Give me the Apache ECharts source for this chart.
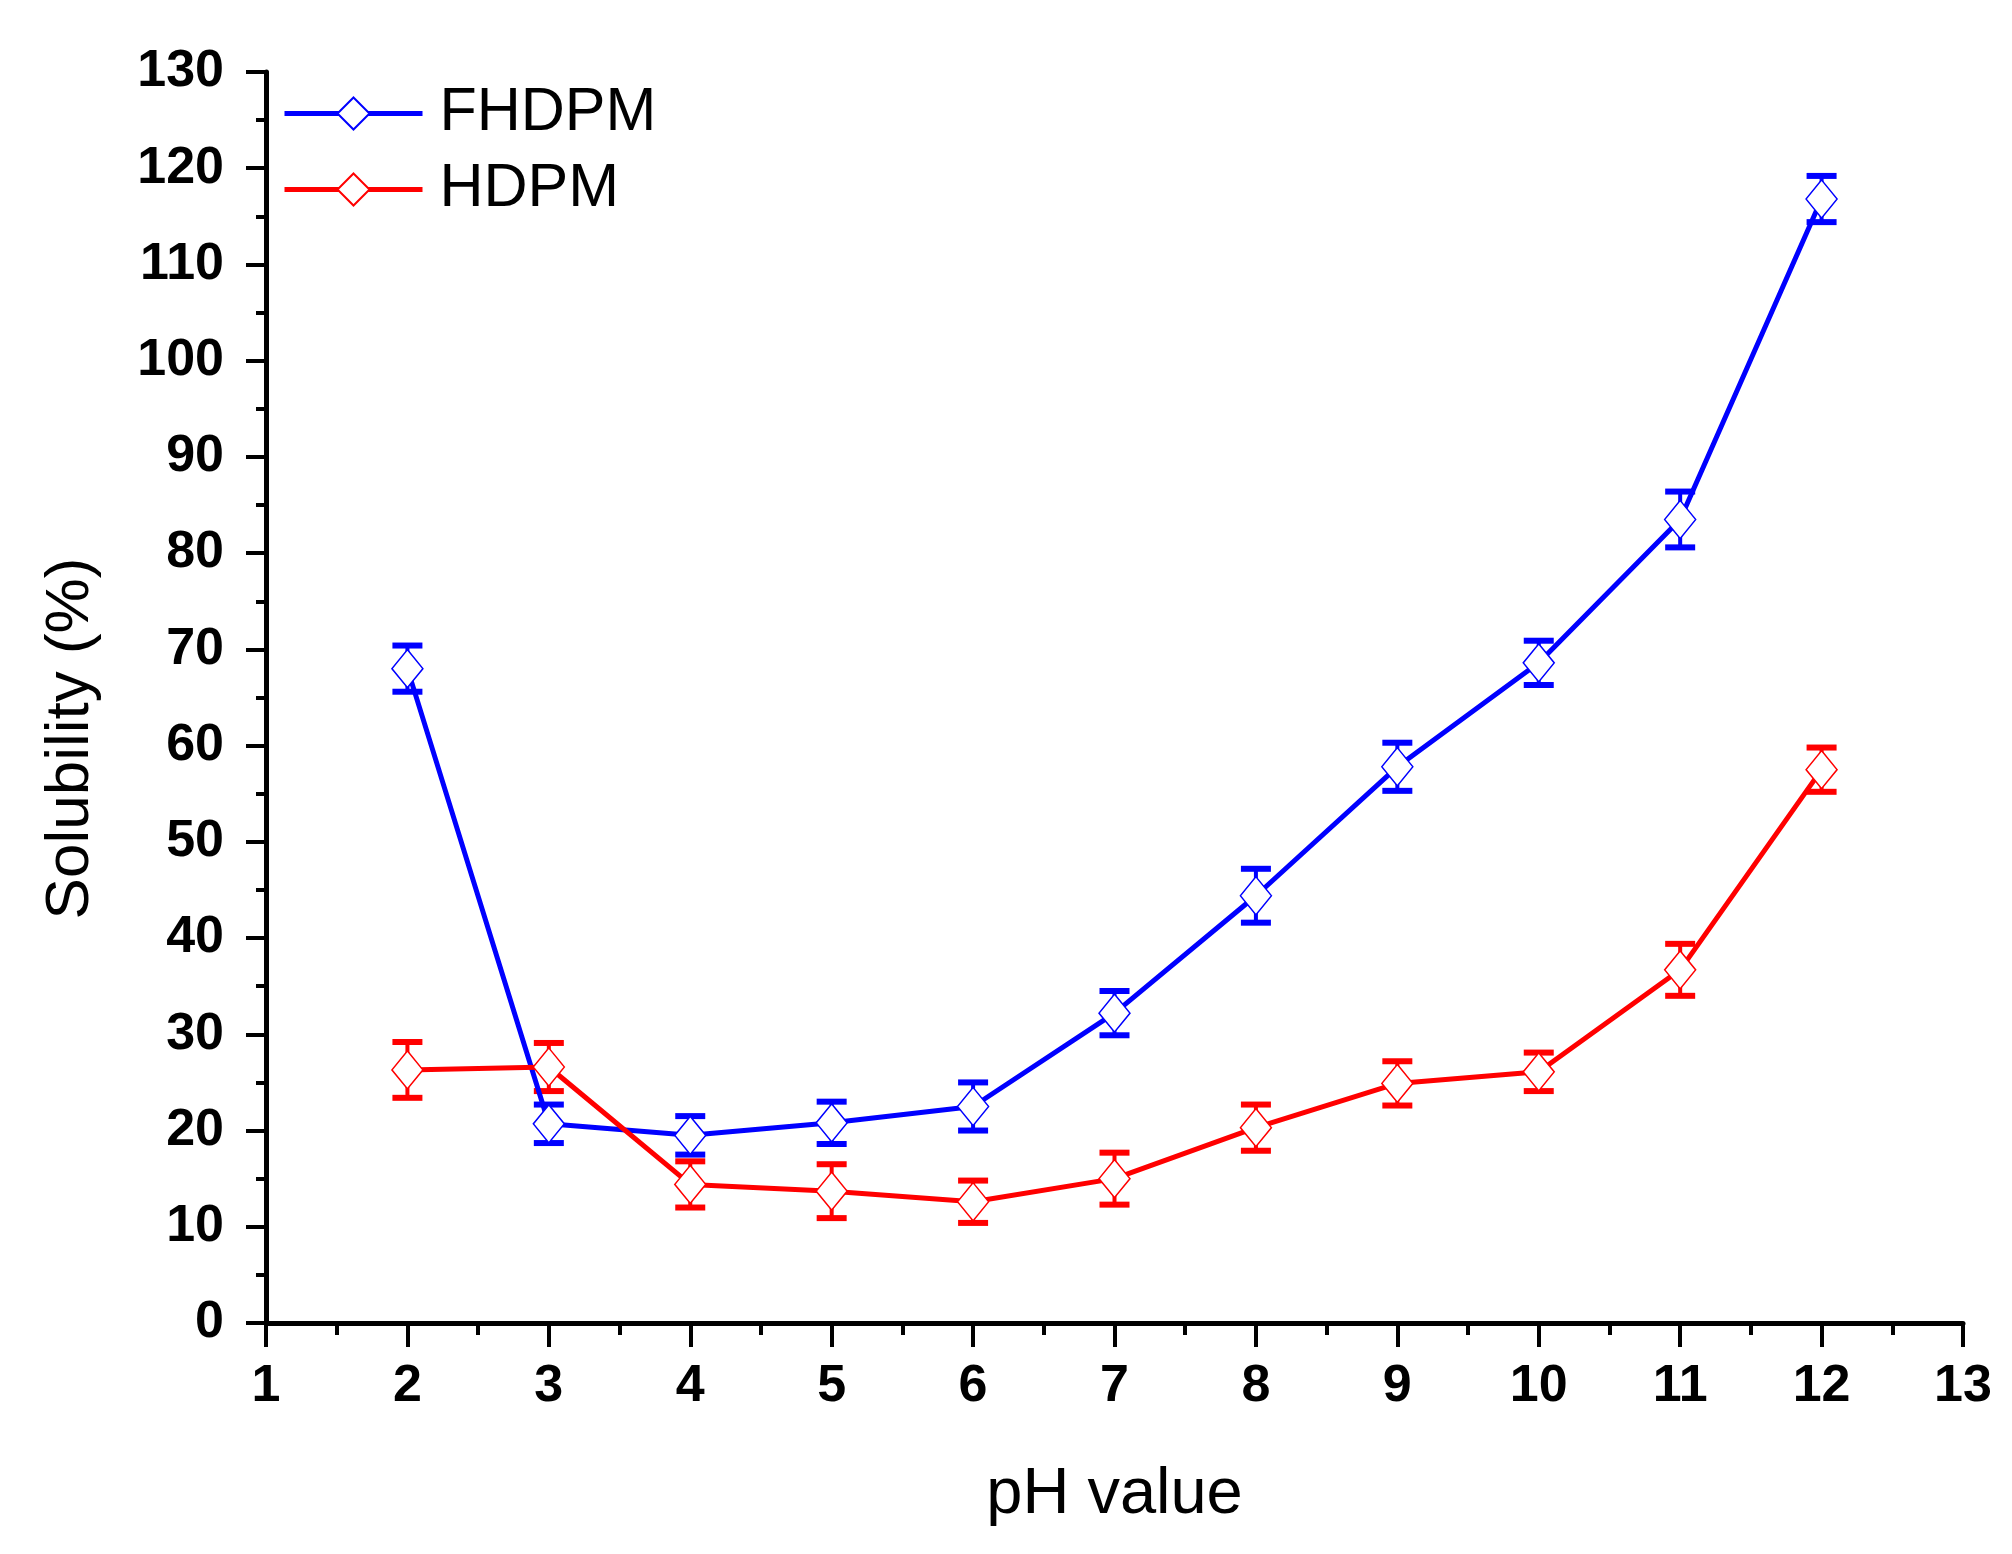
<!DOCTYPE html>
<html>
<head>
<meta charset="utf-8">
<script src="https://cdn.jsdelivr.net/npm/echarts@6/dist/echarts.min.js"></script>
<style>
html,body{margin:0;padding:0;background:#fff;}
#chart{width:2012px;height:1554px;}
</style>
</head>
<body>
<div id="chart"></div>
<script>
const phValues = [2, 3, 4, 5, 6, 7, 8, 9, 10, 11, 12];
const fhdpmValues = [68.0, 20.7, 19.5, 20.8, 22.5, 32.2, 44.4, 57.8, 68.6, 83.5, 116.8];
const fhdpmErrors = [2.4, 2.0, 2.0, 2.2, 2.5, 2.3, 2.8, 2.5, 2.3, 2.9, 2.4];
const hdpmValues = [26.3, 26.6, 14.4, 13.7, 12.6, 15.0, 20.3, 24.9, 26.1, 36.7, 57.5];
const hdpmErrors = [2.9, 2.5, 2.4, 2.8, 2.2, 2.7, 2.4, 2.3, 2.0, 2.7, 2.3];
const seriesNames = ['FHDPM', 'HDPM'];
const xLabel = 'pH value';
const yLabel = 'Solubility (%)';

const BLUE = '#0000FF';
const RED = '#FF0000';

function pairs(xs, ys) { return xs.map((x, i) => [x, ys[i]]); }
function triples(xs, ys, es) { return xs.map((x, i) => [x, ys[i], es[i]]); }

function errorRenderer(color) {
  return function (params, api) {
    const x = api.value(0), y = api.value(1), e = api.value(2);
    const top = api.coord([x, y + e]);
    const bot = api.coord([x, y - e]);
    const cw = 15;
    return {
      type: 'group',
      children: [
        { type: 'line', shape: { x1: top[0], y1: top[1], x2: bot[0], y2: bot[1] }, style: { stroke: color, lineWidth: 4 } },
        { type: 'line', shape: { x1: top[0] - cw, y1: top[1], x2: top[0] + cw, y2: top[1] }, style: { stroke: color, lineWidth: 6 } },
        { type: 'line', shape: { x1: bot[0] - cw, y1: bot[1], x2: bot[0] + cw, y2: bot[1] }, style: { stroke: color, lineWidth: 6 } }
      ]
    };
  };
}

const chart = echarts.init(document.getElementById('chart'), null, { renderer: 'canvas' });
const axisFont = { color: '#000', fontFamily: 'Liberation Sans, Arial, sans-serif' };

chart.setOption({
  animation: false,
  backgroundColor: '#fff',
  grid: { left: 266, right: 49, top: 72, bottom: 231, containLabel: false },
  legend: {
    data: seriesNames,
    orient: 'vertical',
    left: 277,
    top: 78,
    itemWidth: 138,
    itemHeight: 40,
    itemGap: 15,
    lineStyle: { width: 5 },
    textStyle: { fontSize: 61, lineHeight: 60, color: '#000', fontFamily: 'Liberation Sans, Arial, sans-serif', padding: [0, 0, 0, 12] }
  },
  xAxis: {
    type: 'value',
    min: 1, max: 13, interval: 1,
    name: xLabel,
    nameLocation: 'middle',
    nameGap: 140,
    nameTextStyle: Object.assign({ fontSize: 65 }, axisFont),
    splitLine: { show: false },
    axisLine: { show: true, onZero: false, lineStyle: { color: '#000', width: 5 } },
    axisTick: { show: true, inside: false, length: 24, lineStyle: { color: '#000', width: 4 } },
    minorTick: { show: true, splitNumber: 2, length: 12, lineStyle: { color: '#000', width: 4 } },
    axisLabel: Object.assign({ fontSize: 52, fontWeight: 'bold', margin: 38 }, axisFont)
  },
  yAxis: {
    type: 'value',
    min: 0, max: 130, interval: 10,
    name: yLabel,
    nameLocation: 'middle',
    nameGap: 164,
    nameTextStyle: Object.assign({ fontSize: 62, padding: [0, 82, 0, 0] }, axisFont),
    splitLine: { show: false },
    axisLine: { show: true, onZero: false, lineStyle: { color: '#000', width: 5 } },
    axisTick: { show: true, inside: false, length: 20, lineStyle: { color: '#000', width: 4 } },
    minorTick: { show: true, splitNumber: 2, length: 10, lineStyle: { color: '#000', width: 4 } },
    axisLabel: Object.assign({ fontSize: 52, fontWeight: 'bold', margin: 42 }, axisFont)
  },
  series: [
    {
      name: seriesNames[0] + ' error', type: 'custom', z: 1,
      renderItem: errorRenderer(BLUE),
      encode: { x: 0, y: 1 },
      data: triples(phValues, fhdpmValues, fhdpmErrors)
    },
    {
      name: seriesNames[1] + ' error', type: 'custom', z: 1,
      renderItem: errorRenderer(RED),
      encode: { x: 0, y: 1 },
      data: triples(phValues, hdpmValues, hdpmErrors)
    },
    {
      name: seriesNames[0], type: 'line', z: 3,
      data: pairs(phValues, fhdpmValues),
      symbol: 'diamond', symbolSize: [31, 38], showAllSymbol: true,
      lineStyle: { color: BLUE, width: 5 },
      itemStyle: { color: '#fff', borderColor: BLUE, borderWidth: 1.5 }
    },
    {
      name: seriesNames[1], type: 'line', z: 3,
      data: pairs(phValues, hdpmValues),
      symbol: 'diamond', symbolSize: [31, 38], showAllSymbol: true,
      lineStyle: { color: RED, width: 5 },
      itemStyle: { color: '#fff', borderColor: RED, borderWidth: 1.5 }
    }
  ]
});
</script>
</body>
</html>
